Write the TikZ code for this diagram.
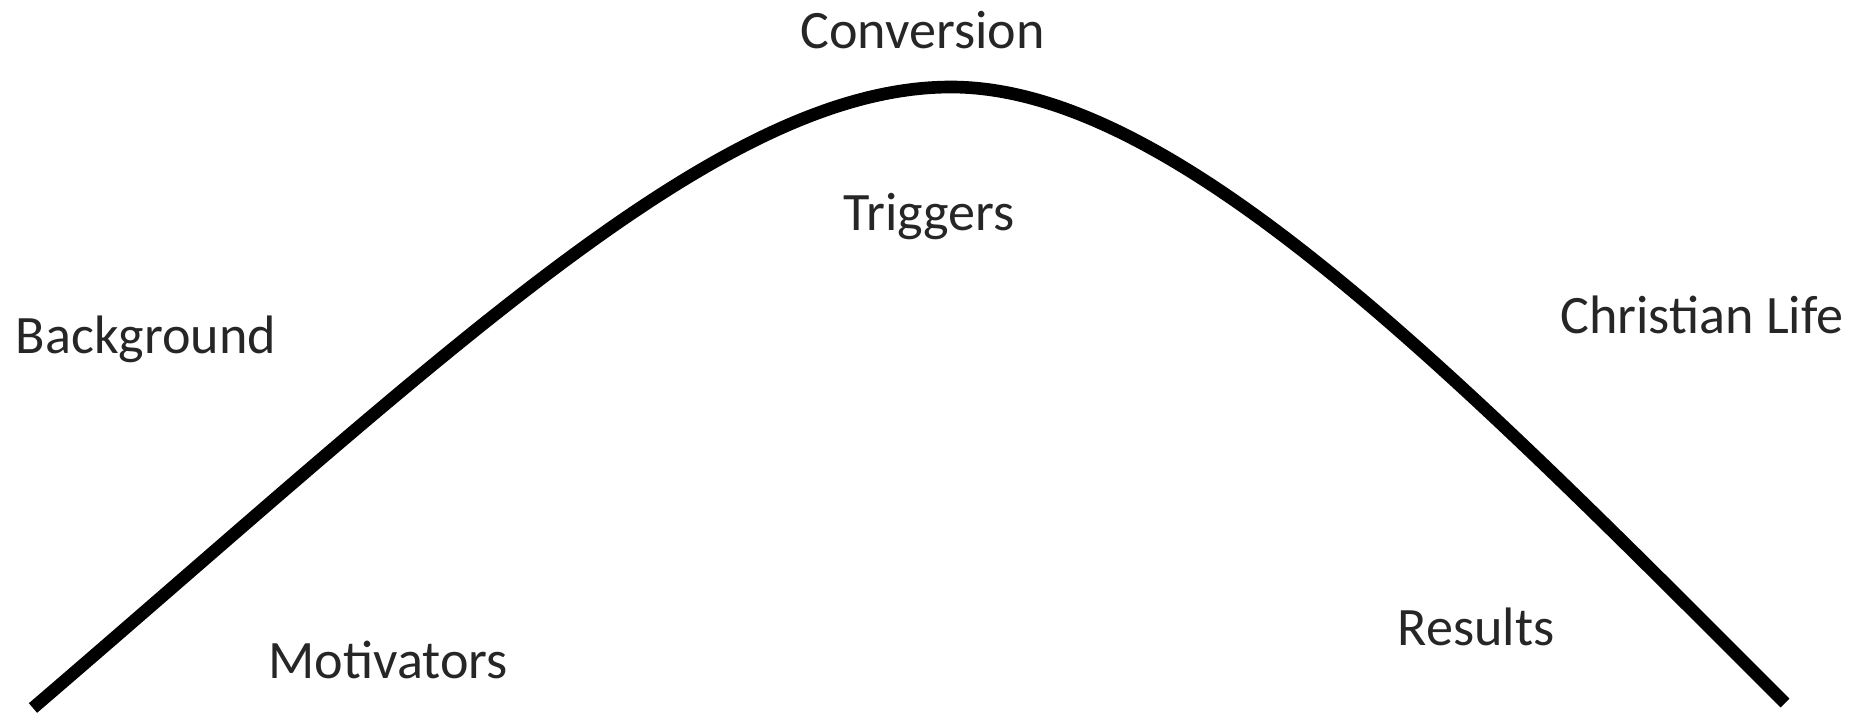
\documentclass[tikz,border=0pt]{standalone}
\usepackage{fontspec}
\setmainfont{Carlito}
\usepackage{tikz}
\tikzset{
  hill/.style={line width=3.6pt, draw=black, line cap=butt, line join=round},
  stagelabel/.style={font=\fontsize{15.4pt}{18pt}\selectfont, text=black!85, inner sep=0pt, anchor=base},
}

\begin{document}
\begin{tikzpicture}
\useasboundingbox (0,0) rectangle (18.64,7.12);
\coordinate (start) at (0.330,0.040);
\coordinate (top) at (9.510,6.250);
\coordinate (finish) at (17.850,0.090);
\draw[hill] (start) .. controls (4.500,3.620) and (7.200,6.250) .. (top)
  .. controls (11.750,6.250) and (14.550,3.390) .. (finish);
\node[stagelabel] (conversion) at (9.225,6.640) {Conversion};
\node[stagelabel] (triggers) at (9.290,4.820) {Triggers};
\node[stagelabel] (background) at (1.460,3.590) {Background};
\node[stagelabel] (christian) at (17.020,3.790) {Christian Life};
\node[stagelabel] (motivators) at (3.880,0.340) {Motivators};
\node[stagelabel] (results) at (14.760,0.670) {Results};
\end{tikzpicture}
\end{document}
